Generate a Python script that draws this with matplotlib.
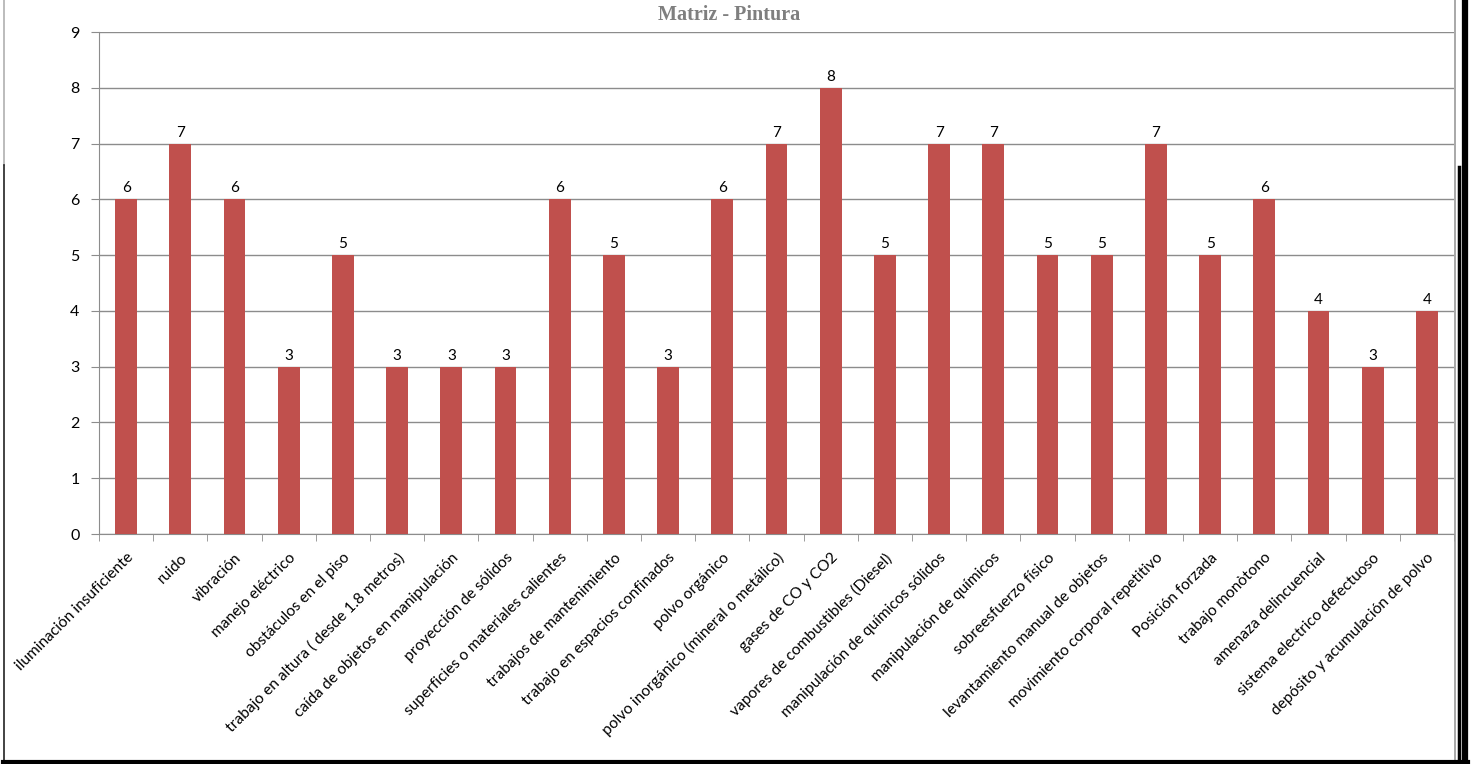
import matplotlib.pyplot as plt
from matplotlib.lines import Line2D
import numpy as np

categorias = [
    'iluminación insuficiente', 'ruido', 'vibración', 'manejo eléctrico',
    'obstáculos en el piso', 'trabajo en altura ( desde 1.8 metros)',
    'caída de objetos en manipulación', 'proyección de sólidos',
    'superficies o materiales calientes', 'trabajos de mantenimiento',
    'trabajo en espacios confinados', 'polvo orgánico',
    'polvo inorgánico (mineral o metálico)', 'gases de CO y CO2',
    'vapores de combustibles (Diesel)', 'manipulación de químicos sólidos',
    'manipulación de químicos', 'sobreesfuerzo físico',
    'levantamiento manual de objetos', 'movimiento corporal repetitivo',
    'Posición forzada', 'trabajo monòtono', 'amenaza delincuencial',
    'sistema electrico defectuoso', 'depósito y acumulación de polvo',
]
valores = [6, 7, 6, 3, 5, 3, 3, 3, 6, 5, 3, 6, 7, 8, 5, 7, 7, 5, 5, 7, 5, 6, 4, 3, 4]
y_ticks = list(range(0, 10))

W, H = 1471, 764
fig = plt.figure(figsize=(W / 100, H / 100), dpi=100)
ax = fig.add_axes([99 / W, 1 - 534 / H, (1454 - 99) / W, (534 - 32) / H])

x = np.arange(len(categorias))
barras = ax.bar(x, valores, width=0.4, color='#C0504D', zorder=3)

fuente = ['Lato', 'DejaVu Sans']
for xi, v in zip(x, valores):
    ax.text(xi, v + 0.07, str(v), ha='center', va='bottom', fontsize=11,
            family=fuente, color='black')

ax.set_xlim(-0.5, len(categorias) - 0.5)
ax.set_ylim(0, 9)
ax.set_yticks(y_ticks)
ax.set_yticklabels([str(t) for t in y_ticks], fontsize=11.5, family=fuente)
ax.yaxis.grid(True, color='#8c8c8c', linewidth=1, zorder=0)
ax.tick_params(axis='y', length=6, color='#8c8c8c', pad=8)

ax.set_xticks(x)
ax.set_xticklabels(categorias, rotation=45, ha='right', va='top',
                   rotation_mode='anchor', fontsize=11.2, family=fuente)
ax.tick_params(axis='x', which='major', length=0, pad=12)
ax.set_xticks(np.arange(-0.5, len(categorias), 1), minor=True)
ax.tick_params(axis='x', which='minor', length=5, color='#8c8c8c')

for lado in ['top', 'right']:
    ax.spines[lado].set_visible(False)
ax.spines['left'].set_color('#8c8c8c')
ax.spines['bottom'].set_color('#8c8c8c')

fig.text(729 / W, 1 - 15 / H, 'Matriz - Pintura', ha='center', va='center',
         fontsize=14.5, fontweight='bold', family='Liberation Serif', color='#7f7f7f')

# marco del gráfico y sombra
def linea(x0, y0, x1, y1, color, lw):
    fig.add_artist(Line2D([x0 / W, x1 / W], [1 - y0 / H, 1 - y1 / H],
                          color=color, linewidth=lw, transform=fig.transFigure))

linea(3.5, 0, 3.5, 165, '#b0b0b0', 1.2)
linea(3.5, 165, 3.5, 764, '#222222', 1.2)
linea(1454.5, 0, 1454.5, 760, '#9a9a9a', 1.2)
linea(1465, 0, 1465, 764, 'black', 4.5)
linea(1458.5, 167, 1458.5, 764, 'black', 2.5)
linea(3, 761.5, 1468, 761.5, 'black', 3)

fig.savefig('out.png', dpi=100)
